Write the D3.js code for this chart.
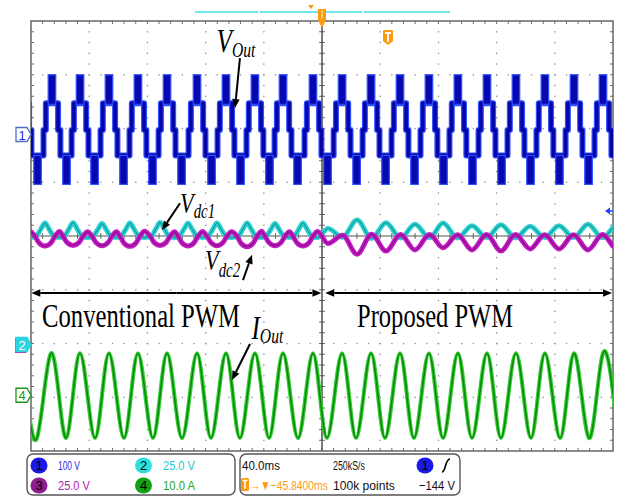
<!DOCTYPE html>
<html>
<head>
<meta charset="utf-8">
<script src="https://cdn.jsdelivr.net/npm/d3@7"></script>
<style>
body{margin:0;background:#fff;}
svg{display:block;}
</style>
</head>
<body>
<div id="scope"></div>
<script>
// ---- data (time in ms, 40 ms/div) ----
// fundamental peak times of Vout / Iout (ms)
var voutPeakT = [-5.5, 14.4, 33.7, 53.6, 73.5, 93.5, 114.1, 134.0, 153.9, 173.2, 193.8,
                 213.8, 233.7, 253.6, 273.5, 293.4, 313.4, 333.3, 353.2, 373.2, 393.1, 413.0];
// one Vout cycle around a positive peak: [dt ms, volts]
var voutLineShape = [[-7.4,-50],[-5.8,-50],[-5.8,-3],[-4.2,-3],[-4.2,47],[-2.6,47],[2.6,47],
                     [4.2,47],[4.2,-3],[5.8,-3],[5.8,-50],[7.4,-50],[12.6,-50]];
// PWM blocks inside one cycle: [dtStart, dtEnd, vLow, vHigh]
var voutBlockShape = [[-2.6,2.6,45,100],[7.4,12.6,-104,-50]];

// Iout extrema: [ms, A]
var ioutExtrema = [[-5.5,8.2],[4.1,-7.6],[14.4,8.2],[24.1,-7.6],[33.7,8.2],[44.0,-7.6],[53.6,8.2],
  [63.9,-7.6],[73.5,8.2],[83.8,-7.6],[93.5,8.2],[103.8,-7.6],[114.1,8.2],[123.7,-7.6],[134.0,8.2],
  [143.6,-7.6],[153.9,8.2],[163.6,-7.6],[173.2,8.2],[183.5,-7.6],[193.8,8.2],[203.4,-7.6],
  [213.8,8.2],[223.4,-7.6],[233.7,8.2],[243.3,-7.6],[253.6,8.2],[263.2,-7.6],[273.5,8.2],
  [283.2,-7.6],[293.4,8.2],[303.1,-7.6],[313.4,8.2],[323.0,-7.6],[333.3,8.2],[343.6,-7.6],
  [353.2,8.2],[363.6,-7.6],[373.2,8.2],[383.5,-7.6],[393.1,8.2],[403.4,-7.6]];

// dc-link ripple, conventional PWM half
var convPeakT   = [-10.3, 9.6, 28.9, 48.8, 68.0, 88.7, 107.9, 127.8, 148.5, 167.7, 186.9];
var vdc1ConvPeak   = [56.0, 56.0, 56.2, 55.8, 56.0, 56.3, 55.9, 56.0, 56.1, 55.8, 56.0];
var vdc2ConvTrough = [45.5, 45.3, 45.6, 45.5, 45.2, 45.6, 45.4, 45.5, 45.0, 45.5, 45.4];
// dc-link ripple, proposed PWM half
var propPeakT   = [204.1, 224.1, 244.0, 263.9, 283.2, 303.1, 323.0, 343.0, 362.9, 382.8, 402.7];
var vdc1PropPeak   = [53.5, 57.5, 56.2, 55.5, 56.0, 54.8, 55.2, 54.5, 54.8, 55.5, 55.0];
var vdc2PropTrough = [46.5, 41.5, 43.0, 43.5, 44.5, 43.5, 43.0, 44.0, 44.0, 43.5, 44.0];
// ripple shapes per cycle: [dt ms, fraction of swing]
var vdc1ConvShape = [[-6,0],[-3,0.5],[0,1],[3,0.5],[6,0],[10,-0.12]];
var vdc2ConvShape = [[-7,0],[-4,-0.7],[0,-1],[4,-0.7],[7,0],[10,0.45]];
var vdc1PropShape = [[0,1],[10,-0.15]];
var vdc2PropShape = [[0,-1],[10,0.1]];
var vdcNominal = 50;

// ---- layout ----
var W = 618, H = 498;
var P = {left:31, right:613, top:21, bottom:451};
var xDiv = 10, yDivs = 8;
var sansUI = "'Liberation Sans Narrow','Liberation Sans',Arial,sans-serif";

var svg = d3.select("#scope").append("svg").attr("width",W).attr("height",H)
  .style("font-family",sansUI);

var x = d3.scaleLinear().domain([0,400]).range([P.left,P.right]);
var yDiv = d3.scaleLinear().domain([-4,4]).range([P.bottom,P.top]);
var y1 = d3.scaleLinear().domain([-600,200]).range([P.bottom,P.top]);   // ch1 100 V/div
var y23 = d3.scaleLinear().domain([-50,150]).range([P.bottom,P.top]);   // ch2/3 25 V/div
var y4 = d3.scaleLinear().domain([-10,70]).range([P.bottom,P.top]);     // ch4 10 A/div

// ---- graticule ----
var grid = svg.append("g");
var dx = (P.right-P.left)/xDiv, dy = (P.bottom-P.top)/yDivs;
var dots = [];
for(var i = 1; i < xDiv; i++){
  if(i == 5) continue;
  for(var j = 1; j < yDivs*5; j++){ dots.push([P.left+i*dx, P.top+j*dy/5]); }
}
for(var j = 1; j < yDivs; j++){
  if(j == 4) continue;
  for(var i = 1; i < xDiv*5; i++){ dots.push([P.left+i*dx/5, P.top+j*dy]); }
}
grid.selectAll("rect.dot").data(dots).enter().append("rect").attr("class","dot")
  .attr("x",function(d){return d[0]-0.6;}).attr("y",function(d){return d[1]-0.6;})
  .attr("width",1.3).attr("height",1.3).attr("fill","#8a8a8a");

var ticks = [];
for(var i = 1; i < xDiv*5; i++){
  var tx = P.left+i*dx/5;
  ticks.push([tx,P.top,tx,P.top+3]);
  ticks.push([tx,P.bottom,tx,P.bottom-3]);
  ticks.push([tx,yDiv(0)-3,tx,yDiv(0)+3]);
}
for(var j = 1; j < yDivs*5; j++){
  var ty = P.top+j*dy/5;
  ticks.push([P.left,ty,P.left+3,ty]);
  ticks.push([P.right,ty,P.right-3,ty]);
  ticks.push([x(200)-3,ty,x(200)+3,ty]);
}
grid.selectAll("line.tick").data(ticks).enter().append("line").attr("class","tick")
  .attr("x1",function(d){return d[0];}).attr("y1",function(d){return d[1];})
  .attr("x2",function(d){return d[2];}).attr("y2",function(d){return d[3];})
  .attr("stroke","#6a6a6a").attr("stroke-width",1);
grid.append("line").attr("x1",P.left).attr("x2",P.right).attr("y1",yDiv(0)).attr("y2",yDiv(0))
  .attr("stroke","#555").attr("stroke-width",1.2);
grid.append("line").attr("x1",x(200)).attr("x2",x(200)).attr("y1",P.top).attr("y2",P.bottom)
  .attr("stroke","#444").attr("stroke-width",1.4);
grid.append("rect").attr("x",P.left).attr("y",P.top).attr("width",P.right-P.left).attr("height",P.bottom-P.top)
  .attr("fill","none").attr("stroke","#666").attr("stroke-width",1.5);

// ---- traces ----
svg.append("clipPath").attr("id","clip").append("rect")
  .attr("x",P.left).attr("y",P.top).attr("width",P.right-P.left).attr("height",P.bottom-P.top);
var traces = svg.append("g").attr("clip-path","url(#clip)");

function repeatShape(times, shape, valueFn){
  var pts = [];
  times.forEach(function(t,k){
    shape.forEach(function(s){ pts.push([t+s[0], valueFn(s[1],k)]); });
  });
  return pts;
}
function drawTrace(pts, yScale, curve, outer, outerW, inner, innerW){
  var line = d3.line().x(function(d){return x(d[0]);}).y(function(d){return yScale(d[1]);}).curve(curve);
  traces.append("path").attr("d",line(pts)).attr("fill","none").attr("stroke",outer)
    .attr("stroke-width",outerW).attr("stroke-linejoin","round");
  traces.append("path").attr("d",line(pts)).attr("fill","none").attr("stroke",inner)
    .attr("stroke-width",innerW).attr("stroke-linejoin","round");
}

// Vout (ch1)
var voutPts = repeatShape(voutPeakT, voutLineShape, function(v){return v;});
drawTrace(voutPts, y1, d3.curveLinear, "#3050ff", 6, "#0606a8", 3.6);
var blocks = [];
voutPeakT.forEach(function(t){
  voutBlockShape.forEach(function(b){ blocks.push({t0:t+b[0], t1:t+b[1], lo:b[2], hi:b[3]}); });
});
traces.selectAll("rect.blk").data(blocks).enter().append("rect").attr("class","blk")
  .attr("x",function(d){return x(d.t0);}).attr("width",function(d){return x(d.t1)-x(d.t0);})
  .attr("y",function(d){return y1(d.hi);}).attr("height",function(d){return y1(d.lo)-y1(d.hi);})
  .attr("fill","#0808b0").attr("stroke","#3050ff").attr("stroke-width",1.2);

// Vdc1 (ch2) and Vdc2 (ch3)
var vdc1Pts = repeatShape(convPeakT, vdc1ConvShape, function(s,k){return vdcNominal + s*(vdc1ConvPeak[k]-vdcNominal);})
  .concat(repeatShape(propPeakT, vdc1PropShape, function(s,k){return vdcNominal + s*(vdc1PropPeak[k]-vdcNominal);}));
var vdc2Pts = repeatShape(convPeakT, vdc2ConvShape, function(s,k){return vdcNominal + s*(vdcNominal-vdc2ConvTrough[k]);})
  .concat(repeatShape(propPeakT, vdc2PropShape, function(s,k){return vdcNominal + s*(vdcNominal-vdc2PropTrough[k]);}));
drawTrace(vdc1Pts, y23, d3.curveMonotoneX, "#2ed2d2", 5, "#139c9c", 1.2);
drawTrace(vdc2Pts, y23, d3.curveMonotoneX, "#c21cc2", 5, "#8c0a8c", 1.2);

// Iout (ch4)
drawTrace(ioutExtrema, y4, d3.curveNatural, "#34cc34", 4, "#0a880a", 1.5);

// ---- annotations (serif, horizontally compressed like the original figure) ----
var squeeze = 0.745;
var ann = svg.append("g").attr("fill","#000").style("font-family","'Liberation Serif','Times New Roman',serif");
function label(t, d, main, sub, mSize, sSize, subDy){
  var txt = ann.append("g").attr("transform","translate("+x(t)+","+yDiv(d)+") scale("+squeeze+",1)")
    .append("text").attr("font-style","italic");
  txt.append("tspan").attr("font-size",mSize).text(main);
  txt.append("tspan").attr("font-size",sSize).attr("dy",subDy).text(sub);
}
label(127.5, 3.43, "V", "Out", 34, 21, 5);
label(102.4, 0.43, "V", "dc1", 30, 20, 5);
label(119.6, -0.63, "V", "dc2", 30, 20, 7);
label(151.5, -1.91, "I", "Out", 34, 21, 4);

function arrow(t0, d0, t1, d1){
  var xa = x(t0), ya = yDiv(d0), xb = x(t1), yb = yDiv(d1);
  var ang = Math.atan2(yb-ya, xb-xa), L = 9, w = 3.8;
  var bx = xb - L*Math.cos(ang), by = yb - L*Math.sin(ang);
  ann.append("line").attr("x1",xa).attr("y1",ya).attr("x2",bx).attr("y2",by)
    .attr("stroke","#000").attr("stroke-width",2);
  ann.append("path").attr("d","M"+xb+","+yb+"L"+(bx+w*Math.sin(ang))+","+(by-w*Math.cos(ang))
    +"L"+(bx-w*Math.sin(ang))+","+(by+w*Math.cos(ang))+"Z").attr("fill","#000");
}
arrow(143.6, 3.31, 140.2, 2.38);
arrow(102.4, 0.61, 90.0, 0.11);
arrow(145.7, -0.82, 151.9, -0.35);
arrow(150.5, -2.01, 138.1, -2.68);
// region arrows
arrow(100, -1.06, 0.2, -1.06); arrow(100, -1.06, 199.6, -1.06);
arrow(300, -1.06, 202.2, -1.06); arrow(300, -1.06, 399.3, -1.06);

function squeezed(g, t, d, size, str, width){
  var gg = g.append("g").attr("transform","translate("+x(t)+","+yDiv(d)+")");
  var el = gg.append("text").attr("font-size",size).text(str);
  var len = el.node().getComputedTextLength();
  gg.attr("transform","translate("+x(t)+","+yDiv(d)+") scale("+(width/len)+",1)");
}
squeezed(ann, 7.6, -1.69, 33, "Conventional PWM", 198);
squeezed(ann, 224.1, -1.69, 33, "Proposed PWM", 156);

// ---- scope furniture ----
var ui = svg.append("g");
function marker(y, fill, stroke, txt, txtColor){
  ui.append("path").attr("d","M16,"+(y-7)+"H27L31,"+y+"L27,"+(y+7)+"H16Z")
    .attr("fill",fill).attr("stroke",stroke).attr("stroke-width",1.3);
  ui.append("text").attr("x",22).attr("y",y+5).attr("text-anchor","middle").attr("font-size",13)
    .attr("fill",txtColor).text(txt);
}
marker(y1(0)+6, "#fff", "#5070c8", "1", "#2a2ae0");
ui.append("path").attr("d","M15,338H26L30,346L26,353H15Z").attr("fill","#c020c0");
marker(y23(0)+1, "#2ad4e0", "#2ad4e0", "2", "#fff");
marker(y4(0)-2, "#fff", "#1a9a1a", "4", "#1a9a1a");
// trigger level arrow (right)
ui.append("path").attr("d","M605,211L610,207.5V214.5Z").attr("fill","#2040ff");
ui.append("line").attr("x1",609).attr("x2",613).attr("y1",211).attr("y2",211).attr("stroke","#2040ff").attr("stroke-width",1.5);
// top record bar and trigger position
ui.append("line").attr("x1",195).attr("x2",258).attr("y1",12).attr("y2",12).attr("stroke","#6ee8e8").attr("stroke-width",2);
ui.append("line").attr("x1",260).attr("x2",362).attr("y1",12).attr("y2",12).attr("stroke","#6ee8e8").attr("stroke-width",2);
ui.append("line").attr("x1",364).attr("x2",450).attr("y1",12).attr("y2",12).attr("stroke","#6ee8e8").attr("stroke-width",2);
ui.append("path").attr("d","M308,5H314L311,9Z").attr("fill","#ff9a10");
ui.append("path").attr("d","M318,9H326V20L322,28L318,20Z").attr("fill","#ff9a10");
ui.append("line").attr("x1",322).attr("x2",322).attr("y1",10).attr("y2",19).attr("stroke","#ffd080").attr("stroke-width",1.5);
ui.append("path").attr("d","M383,31Q383,30 384,30H392Q393,30 393,31V41L388,45L383,41Z").attr("fill","#ff9a10");
ui.append("path").attr("d","M385,33H391M388,33V42").attr("stroke","#fff").attr("stroke-width",1.8);

// info panels
ui.append("rect").attr("x",27).attr("y",454).attr("width",208).attr("height",41).attr("rx",6)
  .attr("fill","#fff").attr("stroke","#555").attr("stroke-width",1.4);
ui.append("rect").attr("x",240).attr("y",454).attr("width",220).attr("height",41).attr("rx",6)
  .attr("fill","#fff").attr("stroke","#555").attr("stroke-width",1.4);
var badges = [
  {cx:39, cy:465.5, fill:"#1a1ae6", t:"1"}, {cx:143.5, cy:465.5, fill:"#2ee0e0", t:"2"},
  {cx:39, cy:485.5, fill:"#8e1c8e", t:"3"}, {cx:143.5, cy:485.5, fill:"#14a014", t:"4"},
  {cx:425, cy:465.5, fill:"#1a1ae6", t:"1"}
];
ui.selectAll("ellipse.badge").data(badges).enter().append("ellipse").attr("class","badge")
  .attr("cx",function(d){return d.cx;}).attr("cy",function(d){return d.cy;})
  .attr("rx",8.5).attr("ry",8).attr("fill",function(d){return d.fill;});
ui.selectAll("text.badge").data(badges).enter().append("text").attr("class","badge")
  .attr("x",function(d){return d.cx;}).attr("y",function(d){return d.cy+4.5;})
  .attr("text-anchor","middle").attr("font-size",13).attr("fill","#000").text(function(d){return d.t;});
var readouts = [
  {x:58, y:470, w:22, c:"#2a2ae6", t:"100 V"},
  {x:163, y:470, w:32, c:"#22cccc", t:"25.0 V"},
  {x:58, y:490, w:32, c:"#b01cb0", t:"25.0 V"},
  {x:163, y:490, w:32, c:"#1ea81e", t:"10.0 A"},
  {x:242, y:470, w:38, c:"#111", t:"40.0ms"},
  {x:333, y:470, w:32, c:"#111", t:"250kS/s"},
  {x:250, y:490, w:78, c:"#ff9a10", t:"→▼−45.8400ms"},
  {x:333, y:490, w:62, c:"#111", t:"100k points"},
  {x:419, y:490, w:36, c:"#111", t:"−144 V"}
];
readouts.forEach(function(r){
  var g = ui.append("g").attr("transform","translate("+r.x+","+r.y+")");
  var el = g.append("text").attr("font-size",13.5).attr("fill",r.c).text(r.t);
  var len = el.node().getComputedTextLength();
  g.attr("transform","translate("+r.x+","+r.y+") scale("+(r.w/len)+",1)");
});
// trigger badge in readout
ui.append("rect").attr("x",241).attr("y",478).attr("width",8).attr("height",13).attr("rx",1.5).attr("fill","#ff9a10");
ui.append("path").attr("d","M242.5,480.5H247.5M245,480.5V489").attr("stroke","#fff").attr("stroke-width",1.6);
// rising-edge symbol
ui.append("path").attr("d","M442,472C446,472 445,459 450,459").attr("fill","none").attr("stroke","#000").attr("stroke-width",1.6);
</script>
</body>
</html>
